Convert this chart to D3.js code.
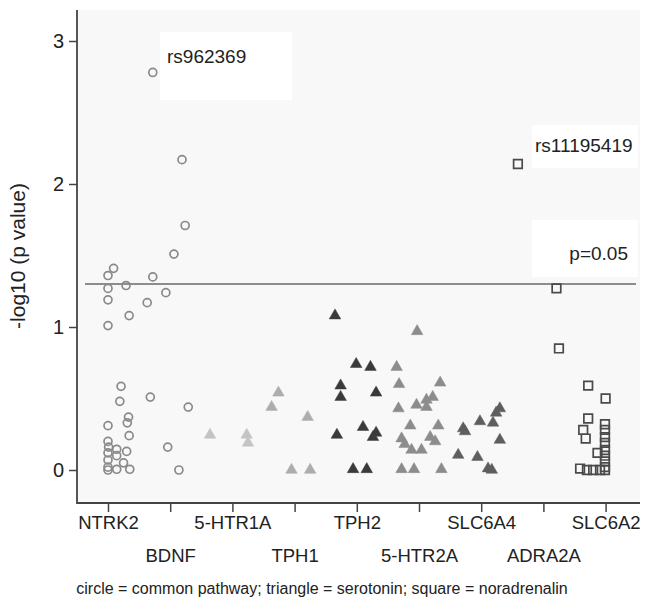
<!DOCTYPE html>
<html>
<head>
<meta charset="utf-8">
<script src="https://cdn.jsdelivr.net/npm/d3@7"></script>
<style>
  body { margin: 0; background: #fff; }
  text { font-family: "Liberation Sans", Arial, sans-serif; fill: #222; }
</style>
</head>
<body>
<div class="canvas"></div>
<script>
// gene order along x
const genes = ["NTRK2", "BDNF", "5-HTR1A", "TPH1", "TPH2", "5-HTR2A", "SLC6A4", "ADRA2A", "SLC6A2"];
const yTicks = [0, 1, 2, 3];
const threshold = -Math.log10(0.05);

// [offset from gene position (in gene units), -log10 p]
const ntrk2 = [[0.09,1.41],[0,1.36],[0,1.27],[0,1.19],[0,1.01],[0.29,1.29],[0.34,1.08],[0.21,0.585],[0.19,0.48],[0.33,0.37],[0.31,0.33],[0,0.31],[0.34,0.24],[0,0.2],[0.01,0.16],[0.14,0.145],[0.3,0.13],[0,0.12],[0.14,0.1],[0,0.07],[0.25,0.05],[0,0.02],[0.14,0.005],[0.35,0.005],[0,0]];
const bdnf = [[-0.28,2.78],[0.19,2.17],[0.24,1.71],[0.06,1.51],[-0.28,1.35],[-0.07,1.24],[-0.37,1.17],[-0.32,0.51],[0.29,0.44],[-0.04,0.16],[0.14,0]];
const htr1a = [[-0.36,0.245],[0.23,0.245],[0.25,0.19]];
const tph1 = [[-0.26,0.54],[-0.37,0.44],[0.21,0.37],[-0.05,0],[0.25,0]];
const tph2 = [[-0.35,1.08],[-0.01,0.74],[0.22,0.72],[-0.26,0.59],[-0.26,0.51],[0.31,0.54],[0.1,0.3],[0.31,0.26],[0.26,0.23],[-0.32,0.245],[-0.06,0.005],[0.16,0.005]];
const htr2a = [[-0.03,0.97],[-0.36,0.72],[-0.32,0.6],[0.34,0.61],[0.22,0.51],[0.12,0.49],[-0.04,0.455],[0.12,0.44],[-0.33,0.43],[-0.14,0.31],[0.31,0.31],[-0.28,0.22],[-0.23,0.18],[0.18,0.23],[0.26,0.2],[-0.12,0.14],[0.04,0.14],[-0.28,0.005],[-0.08,0.005],[0.36,0.005]];
const slc6a4 = [[-0.29,0.29],[-0.26,0.27],[-0.02,0.34],[0.19,0.33],[0.3,0.43],[0.24,0.4],[0.3,0.21],[-0.37,0.105],[-0.06,0.09],[0.11,0.01],[0.17,0]];
const adra2a = [[-0.41,2.14],[0.21,1.27],[0.25,0.85]];
const slc6a2 = [[-0.28,0.59],[0,0.5],[-0.28,0.36],[-0.36,0.28],[-0.32,0.22],[-0.01,0.32],[-0.01,0.28],[-0.01,0.23],[-0.01,0.19],[-0.01,0.14],[-0.13,0.12],[-0.01,0.1],[-0.01,0.06],[-0.01,0.02],[-0.01,0],[-0.41,0.01],[-0.3,0],[-0.2,0],[-0.09,0]];

const groups = [
  { gene: 0, pts: ntrk2, shape: "circle", color: "#8a8a8a" },
  { gene: 1, pts: bdnf, shape: "circle", color: "#8a8a8a" },
  { gene: 2, pts: htr1a, shape: "triangle", color: "#c4c4c4" },
  { gene: 3, pts: tph1, shape: "triangle", color: "#adadad" },
  { gene: 4, pts: tph2, shape: "triangle", color: "#3a3a3a" },
  { gene: 5, pts: htr2a, shape: "triangle", color: "#8c8c8c" },
  { gene: 6, pts: slc6a4, shape: "triangle", color: "#5e5e5e" },
  { gene: 7, pts: adra2a, shape: "square", color: "#4a4a4a" },
  { gene: 8, pts: slc6a2, shape: "square", color: "#4a4a4a" }
];

const W = 648, H = 598;
const mLeft = 77, mRight = 640, mTop = 10, mBottom = 503;

const x = d3.scaleLinear().domain([0, genes.length - 1]).range([108, 605.6]);
const y = d3.scaleLinear().domain([0, 3]).range([470, 41]);

const svg = d3.select(".canvas").append("svg").attr("width", W).attr("height", H);

svg.append("rect")
  .attr("x", mLeft).attr("y", mTop)
  .attr("width", mRight - mLeft).attr("height", mBottom - mTop)
  .attr("fill", "#f8f8f8");

// white label boxes
const boxes = [[160, 32, 132, 68], [532, 125, 106, 43], [532, 220, 106, 57]];
svg.selectAll("rect.box").data(boxes).enter().append("rect")
  .attr("class", "box")
  .attr("x", d => d[0]).attr("y", d => d[1])
  .attr("width", d => d[2]).attr("height", d => d[3])
  .attr("fill", "#fff");

// threshold line
svg.append("line")
  .attr("x1", 85).attr("x2", 636)
  .attr("y1", y(threshold)).attr("y2", y(threshold))
  .attr("stroke", "#6a6a6a").attr("stroke-width", 1.4);

// axes
const yAxis = svg.append("g").attr("transform", `translate(${mLeft},0)`)
  .call(d3.axisLeft(y).tickValues(yTicks).tickSize(8).tickPadding(5).tickFormat(d3.format("d")));
yAxis.select(".domain").remove();
yAxis.selectAll("line").attr("stroke", "#444").attr("stroke-width", 1.5);
yAxis.selectAll("text").attr("font-size", 20).attr("fill", "#222")
  .attr("font-family", "Liberation Sans, Arial, sans-serif");

const xAxis = svg.append("g").attr("transform", `translate(0,${mBottom})`)
  .call(d3.axisBottom(x).tickValues(d3.range(genes.length)).tickSize(9).tickFormat(i => genes[i]));
xAxis.select(".domain").remove();
xAxis.selectAll("line").attr("stroke", "#444").attr("stroke-width", 1.5);
xAxis.selectAll("text")
  .attr("font-size", 18.5).attr("fill", "#222")
  .attr("font-family", "Liberation Sans, Arial, sans-serif")
  .attr("dy", null)
  .attr("y", (d, i) => i % 2 === 0 ? 26 : 59);

svg.append("path")
  .attr("d", `M${mLeft},${mTop}V${mBottom}H${mRight}`)
  .attr("fill", "none").attr("stroke", "#444").attr("stroke-width", 1.8);

// points
const sym = {
  circle: d3.symbol().type(d3.symbolCircle).size(50),
  triangle: d3.symbol().type(d3.symbolTriangle).size(58),
  square: d3.symbol().type(d3.symbolSquare).size(74)
};

groups.forEach(g => {
  svg.append("g").selectAll("path")
    .data(g.pts)
    .enter()
    .append("path")
    .attr("transform", d => `translate(${x(g.gene + d[0])},${y(d[1])})`)
    .attr("d", sym[g.shape]())
    .attr("fill", g.shape === "triangle" ? g.color : "none")
    .attr("stroke", g.color)
    .attr("stroke-width", g.shape === "triangle" ? 0.5 : 1.7);
});

// annotations
svg.append("text").attr("x", 167).attr("y", 63).attr("font-size", 19).text("rs962369");
svg.append("text").attr("x", 535).attr("y", 152).attr("font-size", 19).text("rs11195419");
svg.append("text").attr("x", 628).attr("y", 260).attr("font-size", 19).attr("text-anchor", "end").text("p=0.05");

svg.append("text")
  .attr("transform", `translate(25,256) rotate(-90)`)
  .attr("text-anchor", "middle").attr("font-size", 21)
  .text("-log10 (p value)");

svg.append("text")
  .attr("x", 322).attr("y", 594)
  .attr("text-anchor", "middle").attr("font-size", 16)
  .text("circle = common pathway; triangle = serotonin; square = noradrenalin");
</script>
</body>
</html>
